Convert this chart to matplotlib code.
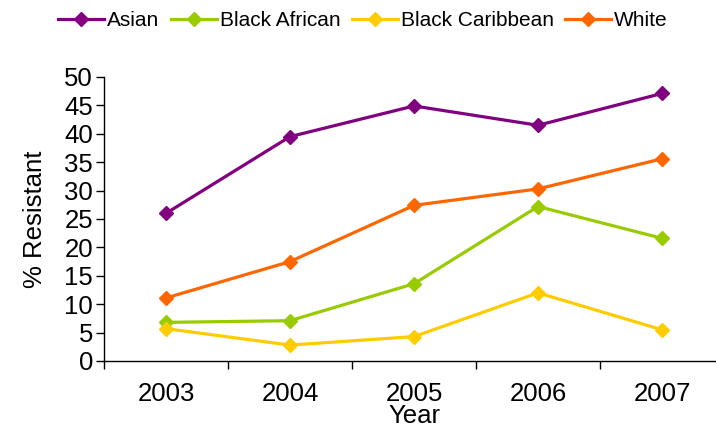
import matplotlib
matplotlib.use("Agg")
import matplotlib.pyplot as plt
from matplotlib.ticker import FixedLocator

plt.rcParams['font.family'] = ['Liberation Sans', 'DejaVu Sans']

years = ['2003', '2004', '2005', '2006', '2007']
asian = [26.0, 39.5, 44.9, 41.5, 47.1]
black_african = [6.8, 7.1, 13.6, 27.2, 21.6]
black_caribbean = [5.7, 2.8, 4.3, 12.0, 5.5]
white = [11.1, 17.5, 27.4, 30.3, 35.6]

series = [
    ('Asian', asian, '#800080'),
    ('Black African', black_african, '#99CC00'),
    ('Black Caribbean', black_caribbean, '#FFCC00'),
    ('White', white, '#FF6600'),
]

fig = plt.figure(figsize=(7.16, 4.30), dpi=100)
ax = fig.add_axes([104 / 716, 69 / 430, 620 / 716, 284 / 430])

x = list(range(len(years)))
for name, vals, col in series:
    ax.plot(x, vals, color=col, lw=2.3, marker='D', ms=7,
            mec=col, mfc=col, label=name, clip_on=False)

ax.set_xlim(-0.5, len(years) - 0.5)
ax.set_ylim(0, 50)
ax.set_yticks(range(0, 51, 5))

# category boundaries carry the tick marks, centres carry the labels
ax.xaxis.set_major_locator(FixedLocator([i - 0.5 for i in range(len(years) + 1)]))
ax.xaxis.set_minor_locator(FixedLocator(x))
ax.set_xticklabels([])
ax.set_xticklabels(years, minor=True)
ax.tick_params(axis='x', which='major', direction='out', length=6, width=1)
ax.tick_params(axis='x', which='minor', length=0, pad=15, labelsize=18.5)
ax.tick_params(axis='y', direction='out', length=6, width=1, pad=2, labelsize=18.5)

for s in ['top', 'right']:
    ax.spines[s].set_visible(False)
for s in ['left', 'bottom']:
    ax.spines[s].set_linewidth(1)
    ax.spines[s].set_color('black')

ax.set_ylabel('% Resistant', fontsize=18.5, labelpad=12)
ax.set_xlabel('Year', fontsize=18.5, labelpad=-1)

fig.legend(loc='center', bbox_to_anchor=(363 / 716, 1 - 21 / 430), ncol=4,
           frameon=False, fontsize=15, handlelength=2.2, handletextpad=0.15,
           columnspacing=0.55, borderaxespad=0)

fig.savefig('out.png', dpi=100)
